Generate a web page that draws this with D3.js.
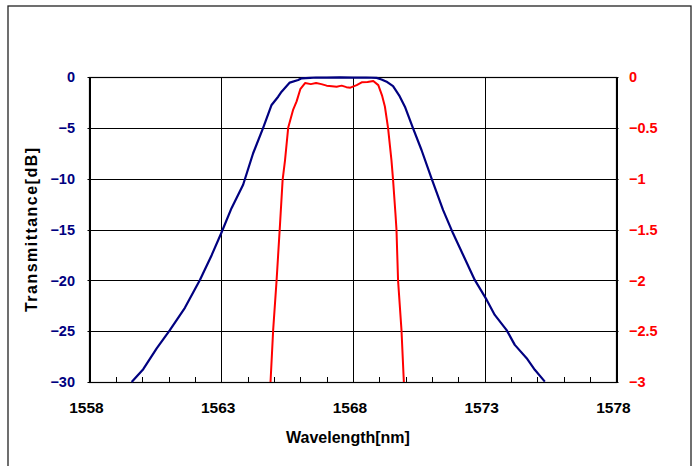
<!DOCTYPE html>
<html>
<head>
<meta charset="utf-8">
<script src="https://cdn.jsdelivr.net/npm/d3@7/dist/d3.min.js"></script>
<style>
  html, body { margin: 0; padding: 0; background: #fff; }
  svg { display: block; }
  text { font-family: "Liberation Sans", Arial, sans-serif; font-weight: bold; }
</style>
</head>
<body>
<svg id="chart" width="697" height="466"></svg>
<script>
// ---- data ----
const xTicks = [1558, 1563, 1568, 1573, 1578];
const yLeftTicks = [0, -5, -10, -15, -20, -25, -30];
const yRightTicks = [0, -0.5, -1, -1.5, -2, -2.5, -3];

const blueWl = [1559.6, 1560.04, 1560.55, 1561.05, 1561.62, 1562.19, 1562.64, 1563.01, 1563.39, 1563.83,
  1564.21, 1564.59, 1564.91, 1565.16, 1565.29, 1565.6, 1565.92, 1566.05, 1566.37, 1566.6, 1567.0, 1567.5,
  1568.0, 1568.5, 1568.9, 1569.08, 1569.3, 1569.52, 1569.75, 1569.97, 1570.28, 1570.6, 1570.98, 1571.42,
  1571.8, 1572.18, 1572.62, 1573.07, 1573.38, 1573.83, 1574.14, 1574.59, 1574.9, 1575.28];
const blueDb = [-30, -28.74, -26.7, -24.9, -22.7, -19.96, -17.5, -15.3, -12.9, -10.6,
  -7.5, -5.0, -2.75, -1.94, -1.44, -0.55, -0.3, -0.13, -0.08, -0.05, -0.06, -0.04,
  -0.06, -0.05, -0.09, -0.25, -0.5, -0.9, -1.8, -2.92, -5.05, -7.18, -9.96, -13.1,
  -15.4, -17.5, -19.96, -21.9, -23.4, -24.9, -26.35, -27.66, -28.8, -29.96];

const redWl = [1564.87, 1564.97, 1565.1, 1565.23, 1565.33, 1565.42, 1565.54, 1565.73, 1565.86, 1566.0,
  1566.18, 1566.4, 1566.6, 1566.8, 1567.0, 1567.2, 1567.38, 1567.57, 1567.75, 1567.9, 1568.14, 1568.33,
  1568.55, 1568.77, 1568.96, 1569.1, 1569.21, 1569.33, 1569.46, 1569.52, 1569.61, 1569.65, 1569.71,
  1569.84, 1569.93];
const redVal = [-3.0, -2.49, -2.0, -1.45, -1.01, -0.82, -0.5, -0.32, -0.24, -0.12,
  -0.06, -0.07, -0.06, -0.07, -0.085, -0.09, -0.095, -0.085, -0.1, -0.105, -0.08, -0.052,
  -0.05, -0.04, -0.08, -0.18, -0.29, -0.5, -0.82, -1.01, -1.34, -1.5, -2.0,
  -2.49, -3.0];

// ---- layout ----
const svg = d3.select("#chart");
const L = 89.5, R = 616.5, T = 77, B = 382;
const x = d3.scaleLinear().domain([1558, 1578]).range([L, R]);
const yL = d3.scaleLinear().domain([-30, 0]).range([B, T]);
const yR = d3.scaleLinear().domain([-3, 0]).range([B, T]);

// outer frame
svg.append("rect").attr("x", 8).attr("y", 6).attr("width", 683).attr("height", 470)
  .attr("fill", "none").attr("stroke", "#222").attr("stroke-width", 1.3);

// horizontal gridlines
svg.append("g").selectAll("line").data(yLeftTicks).join("line")
  .attr("x1", L - 2).attr("x2", R + 2)
  .attr("y1", d => Math.round(yL(d)) + 0.5).attr("y2", d => Math.round(yL(d)) + 0.5)
  .attr("stroke", "#000").attr("stroke-width", 1);

// vertical gridlines
svg.append("g").selectAll("line").data(xTicks).join("line")
  .attr("x1", d => Math.round(x(d)) + 0.5).attr("x2", d => Math.round(x(d)) + 0.5)
  .attr("y1", T).attr("y2", B)
  .attr("stroke", "#000").attr("stroke-width", 1);

// minor ticks on bottom, inside
const minor = d3.range(1559, 1578, 1);
svg.append("g").selectAll("line").data(minor).join("line")
  .attr("x1", d => Math.round(x(d)) + 0.5).attr("x2", d => Math.round(x(d)) + 0.5)
  .attr("y1", B - 5).attr("y2", B)
  .attr("stroke", "#000").attr("stroke-width", 1);

// axis frame
svg.append("rect").attr("x", L).attr("y", T + 0.5).attr("width", R - L).attr("height", B - T)
  .attr("fill", "none").attr("stroke", "#000").attr("stroke-width", 1.2);

// curves
const lineB = d3.line().x(i => x(blueWl[i])).y(i => yL(blueDb[i]));
svg.append("path").attr("d", lineB(d3.range(blueWl.length)))
  .attr("fill", "none").attr("stroke", "#000080").attr("stroke-width", 2.2)
  .attr("stroke-linejoin", "round");

const lineR = d3.line().x(i => x(redWl[i])).y(i => yR(redVal[i]));
svg.append("path").attr("d", lineR(d3.range(redWl.length)))
  .attr("fill", "none").attr("stroke", "#ff0000").attr("stroke-width", 2)
  .attr("stroke-linejoin", "round");

// tick labels
const fmt = v => (v < 0 ? "\u2212" + Math.abs(v) : String(v));
svg.append("g").selectAll("text").data(yLeftTicks).join("text")
  .attr("x", 75).attr("y", d => yL(d)).attr("dy", "0.36em")
  .attr("text-anchor", "end").attr("font-size", 14.5).attr("fill", "#000080")
  .text(fmt);

svg.append("g").selectAll("text").data(yRightTicks).join("text")
  .attr("x", 629).attr("y", d => yR(d)).attr("dy", "0.36em")
  .attr("text-anchor", "start").attr("font-size", 14.5).attr("fill", "#ff0000")
  .text(fmt);

svg.append("g").selectAll("text").data(xTicks).join("text")
  .attr("x", d => x(d) - 3).attr("y", 413)
  .attr("text-anchor", "middle").attr("font-size", 15.5).attr("fill", "#000")
  .text(d => d);

// axis titles
svg.append("text").attr("x", 348).attr("y", 443).attr("text-anchor", "middle")
  .attr("font-size", 16).attr("fill", "#000").text("Wavelength[nm]");

svg.append("text").attr("transform", "translate(37,230) rotate(-90)")
  .attr("text-anchor", "middle").attr("font-size", 16).attr("fill", "#000")
  .attr("textLength", 164).attr("lengthAdjust", "spacing")
  .text("Transmittance[dB]");
</script>
</body>
</html>
